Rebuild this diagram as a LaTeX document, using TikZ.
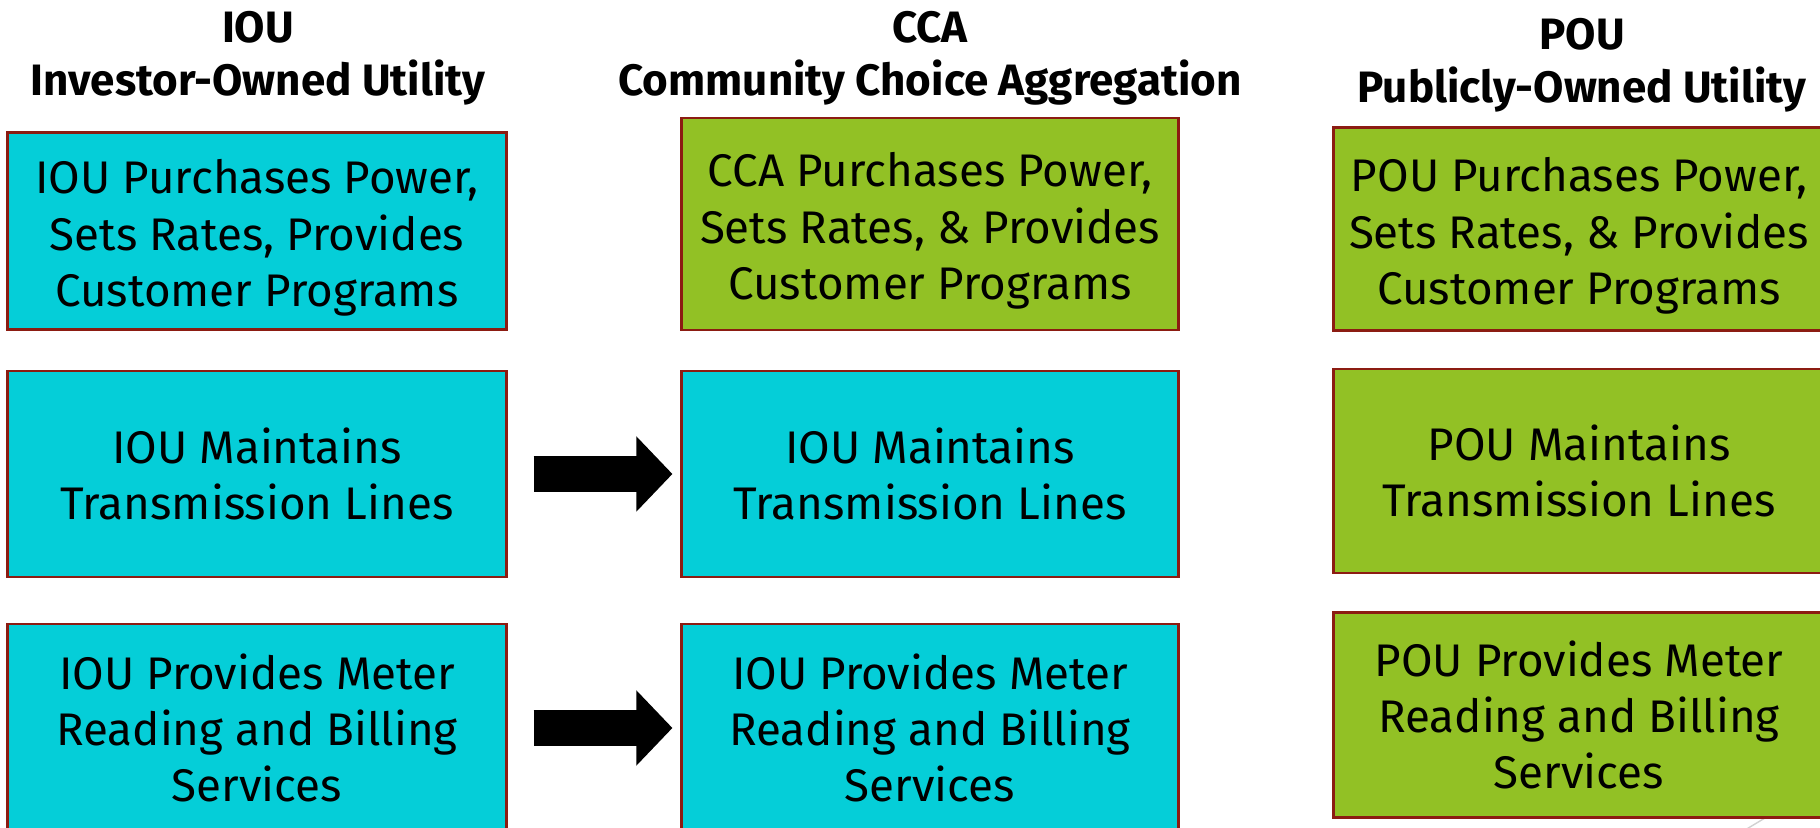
\documentclass[tikz,border=0pt]{standalone}
\usepackage{fontspec}
\setmainfont{Fira Sans}
\usepackage{tikz}
\usetikzlibrary{arrows.meta}
\tikzset{>=latex}
\usepackage{xcolor}
\definecolor{ioucyan}{RGB}{5,206,216}
\definecolor{ccagreen}{RGB}{146,193,37}
\definecolor{boxred}{RGB}{140,28,18}
% top row text sits a little low in its box
\newcommand{\toppad}{\rule{0pt}{13.6pt}}
\tikzset{
  utilbox/.style={draw=boxred,line width=0.8pt,align=center,inner sep=0pt,
    font=\fontsize{13}{16}\selectfont},
  ioubox/.style={utilbox,fill=ioucyan},
  greenbox/.style={utilbox,fill=ccagreen},
  colhead/.style={align=center,font=\bfseries\fontsize{12.5}{15.1}\selectfont},
  blockarrow/.style={line width=0.35cm,-{Triangle[length=0.36cm,width=0.73cm]},
    shorten <=0.26cm,shorten >=0.08cm}
}

\begin{document}
\begin{tikzpicture}[x=0.01cm,y=-0.01cm]
  % page frame
  \useasboundingbox (0,0) rectangle (1820,828);

  % faint slide mark, bottom right
  \draw[gray!35,line width=0.4pt] (1745,830) -- (1775,812);

  % column headings
  \node[colhead] (hiou) at (258,58) {IOU\\Investor-Owned Utility};
  \node[colhead] (hcca) at (930,58) {CCA\\Community Choice Aggregation};
  \node[colhead] (hpou) at (1582,65) {POU\\Publicly-Owned Utility};

  % IOU column
  \node[ioubox,minimum width=4.98cm,minimum height=1.97cm] (i1) at (257,231)
    {\toppad IOU Purchases Power,\\Sets Rates, Provides\\Customer Programs};
  \node[ioubox,minimum width=4.98cm,minimum height=2.06cm] (i2) at (257,474)
    {IOU Maintains\\Transmission Lines};
  \node[ioubox,minimum width=4.98cm,minimum height=2.08cm] (i3) at (257,728)
    {IOU Provides Meter\\Reading and Billing\\Services};

  % CCA column
  \node[greenbox,minimum width=4.96cm,minimum height=2.12cm] (c1) at (930,224)
    {\toppad CCA Purchases Power,\\Sets Rates, \& Provides\\Customer Programs};
  \node[ioubox,minimum width=4.96cm,minimum height=2.06cm] (c2) at (930,474)
    {IOU Maintains\\Transmission Lines};
  \node[ioubox,minimum width=4.96cm,minimum height=2.08cm] (c3) at (930,728)
    {IOU Provides Meter\\Reading and Billing\\Services};

  % POU column
  \node[greenbox,minimum width=4.90cm,minimum height=2.03cm] (p1) at (1579,229)
    {\toppad POU Purchases Power,\\Sets Rates, \& Provides\\Customer Programs};
  \node[greenbox,minimum width=4.90cm,minimum height=2.04cm] (p2) at (1579,471)
    {POU Maintains\\Transmission Lines};
  \node[greenbox,minimum width=4.90cm,minimum height=2.05cm] (p3) at (1579,715)
    {POU Provides Meter\\Reading and Billing\\Services};

  % arrows
  \draw[blockarrow] (i2) -- (c2);
  \draw[blockarrow] (i3) -- (c3);

\end{tikzpicture}
\end{document}
